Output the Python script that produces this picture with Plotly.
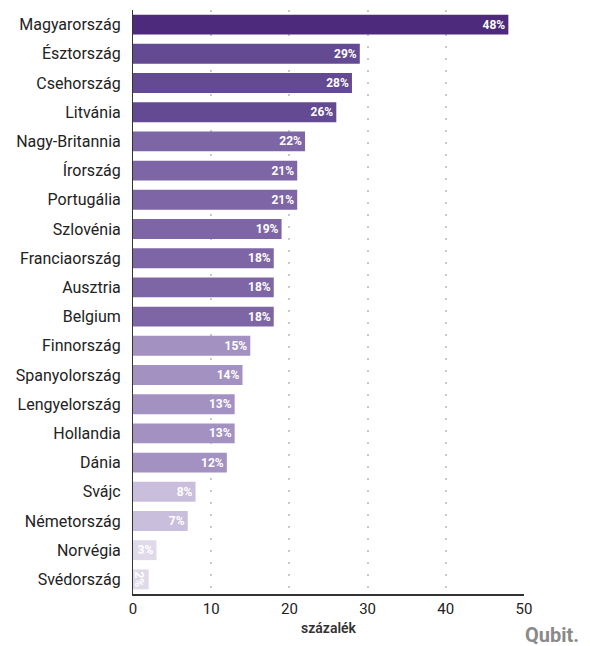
import plotly.graph_objects as go

countries = ["Magyarország", "Észtország", "Csehország", "Litvánia", "Nagy-Britannia",
             "Írország", "Portugália", "Szlovénia", "Franciaország", "Ausztria", "Belgium",
             "Finnország", "Spanyolország", "Lengyelország", "Hollandia", "Dánia",
             "Svájc", "Németország", "Norvégia", "Svédország"]
values = [48, 29, 28, 26, 22, 21, 21, 19, 18, 18, 18, 15, 14, 13, 13, 12, 8, 7, 3, 2]
colors = ["#4d2a7c", "#634a92", "#634a92", "#634a92", "#7e66a6", "#7e66a6", "#7e66a6",
          "#7e66a6", "#7e66a6", "#7e66a6", "#7e66a6", "#a391c2", "#a391c2", "#a391c2",
          "#a391c2", "#a391c2", "#c9bedc", "#c9bedc", "#e0d9ea", "#e0d9ea"]
x_ticks = [0, 10, 20, 30, 40, 50]

fig = go.Figure(go.Bar(
    y=countries, x=values, orientation="h",
    marker=dict(color=colors, line=dict(width=0)),
    width=0.68,
    text=[f"{v}%" for v in values],
    textposition="inside", insidetextanchor="end", constraintext="none",
    textfont=dict(family="Roboto", size=12, color="white", weight="bold"),
    cliponaxis=True,
))

fig.update_layout(
    width=590, height=646,
    margin=dict(l=125, r=74, t=2, b=60),
    paper_bgcolor="white", plot_bgcolor="white",
    font=dict(family="Roboto", size=16, color="#222"),
    showlegend=False,
    xaxis=dict(range=[0, 50], tickvals=x_ticks, showgrid=True, gridcolor="#c8c8c8",
               griddash="2px,10px", gridwidth=1.5, zeroline=False, showline=True,
               linecolor="#333", linewidth=1.5, ticks="", tickfont=dict(size=15, color="#222"),
               automargin=False,
               title=dict(text="százalék", font=dict(size=14, color="#333", weight=600), standoff=6)),
    yaxis=dict(categoryorder="array", categoryarray=countries[::-1], showgrid=False,
               showline=True, linecolor="#333", linewidth=1.2, ticks="", ticksuffix="  ",
               automargin=False, tickfont=dict(size=16, color="#222")),
    annotations=[dict(text="<b>Qubit.</b>", xref="paper", yref="paper", x=1.145, y=-0.07,
                      xanchor="right", yanchor="middle", showarrow=False,
                      font=dict(family="Roboto", size=20, color="#8a8a8a"))],
)

fig.write_html("out.html")
